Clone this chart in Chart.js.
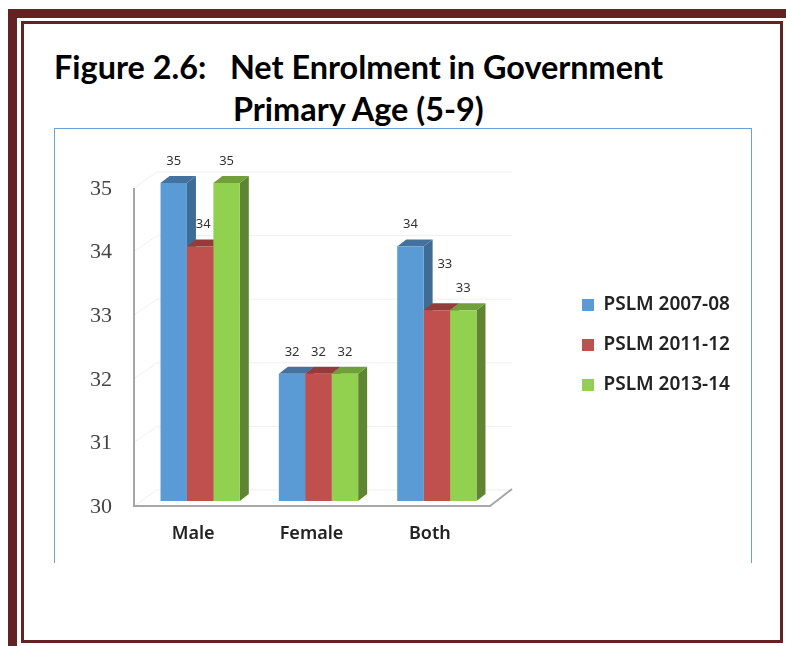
<!DOCTYPE html>
<html lang="en">
<head>
    <meta charset="UTF-8">
    <title>Figure 2.6: Net Enrolment in Government Primary Age (5-9)</title>
    <script src="https://cdn.jsdelivr.net/npm/chart.js"></script>
    <style>
        html, body { margin: 0; padding: 0; background: #fff; overflow: hidden; }
        body { width: 786px; height: 646px; position: relative; font-family: Lato, sans-serif; }
        .band { position: absolute; background: #642323; }
        .title { position: absolute; font-weight: 700; font-size: 32.4px; line-height: 42px; color: #000; white-space: pre; }
        #box { position: absolute; left: 54px; top: 128px; width: 698px; height: 435px; border: 1px solid #6f9fd8; border-bottom: 0; box-sizing: border-box; }
        #chart { position: absolute; left: 54px; top: 128px; }
    </style>
</head>
<body>
    <!-- double frame round the page -->
    <div class="band" style="left:8px;top:9px;width:778px;height:9px"></div>
    <div class="band" style="left:8px;top:9px;width:9px;height:637px"></div>
    <div class="band" style="left:21px;top:21px;width:762px;height:3px"></div>
    <div class="band" style="left:21px;top:21px;width:3px;height:622px"></div>
    <div class="band" style="left:780px;top:21px;width:3px;height:622px"></div>
    <div class="band" style="left:21px;top:640px;width:762px;height:3px"></div>

    <div class="title" style="left:54px;top:46px">Figure 2.6:   Net Enrolment in Government</div>
    <div class="title" style="left:233px;top:88px">Primary Age (5-9)</div>
    <div id="box"></div>
    <canvas id="chart" width="698" height="435"></canvas>

    <script>
        const categories = ["Male", "Female", "Both"];
        const seriesNames = ["PSLM 2007-08", "PSLM 2011-12", "PSLM 2013-14"];
        const pslm0708 = [35, 32, 34];
        const pslm1112 = [34, 32, 33];
        const pslm1314 = [35, 32, 33];
        const yTicks = [30, 31, 32, 33, 34, 35];

        const frontColors = ["#5b9bd5", "#c0504d", "#92d050"];
        const topColors = ["#44729f", "#933c3a", "#6fa03a"];
        const sideColors = ["#3f6c94", "#8a3836", "#5f8532"];

        const depthX = 9, depthY = 7;

        function poly(ctx, pts, fill) {
            ctx.fillStyle = fill;
            ctx.beginPath();
            pts.forEach((p, i) => i ? ctx.lineTo(p[0], p[1]) : ctx.moveTo(p[0], p[1]));
            ctx.closePath();
            ctx.fill();
        }

        // fake 3D: back wall, floor and the top/side faces of the bars
        const depthPlugin = {
            id: "depth",
            beforeDatasetsDraw(chart) {
                const ctx = chart.ctx, y = chart.scales.y, area = chart.chartArea;
                const left = area.left - 7, backLeft = left + 23, right = area.right + 16;
                ctx.save();
                ctx.strokeStyle = "#efefef";
                ctx.lineWidth = 1;
                yTicks.forEach(v => {
                    const py = y.getPixelForValue(v);
                    ctx.beginPath();
                    ctx.moveTo(left, py + 5);
                    ctx.lineTo(backLeft, py - 11);
                    ctx.lineTo(right, py - 11);
                    ctx.stroke();
                });
                const base = y.getPixelForValue(30);
                const floor = base + 5;
                ctx.strokeStyle = "#a6a6a6";
                ctx.lineWidth = 2;
                ctx.beginPath();
                ctx.moveTo(left, y.getPixelForValue(35) + 5);
                ctx.lineTo(left, floor);
                ctx.lineTo(area.right - 6, floor);
                ctx.lineTo(right, floor - 17);
                ctx.stroke();

                chart.data.datasets.forEach((ds, i) => {
                    chart.getDatasetMeta(i).data.forEach(bar => {
                        const l = bar.x - bar.width / 2, r = bar.x + bar.width / 2;
                        poly(ctx, [[r, bar.y], [r + depthX, bar.y - depthY], [r + depthX, base - depthY], [r, base]], sideColors[i]);
                        poly(ctx, [[l, bar.y], [l + depthX, bar.y - depthY], [r + depthX, bar.y - depthY], [r, bar.y]], topColors[i]);
                    });
                });
                ctx.restore();
            },
            afterDatasetsDraw(chart) {
                const ctx = chart.ctx;
                // labels sit where the original put them, a couple were moved off the bars
                const nudge = { "1,0": [3, 0], "1,2": [8, -24] };
                ctx.save();
                ctx.font = "13px 'Noto Sans'";
                ctx.fillStyle = "#333";
                ctx.textAlign = "center";
                ctx.textBaseline = "middle";
                chart.data.datasets.forEach((ds, i) => {
                    chart.getDatasetMeta(i).data.forEach((bar, j) => {
                        const n = nudge[i + "," + j] || [0, 0];
                        ctx.fillText(ds.data[j], bar.x + n[0], bar.y - 22 + n[1]);
                    });
                });
                ctx.restore();
            },
            // legend stays far right of the plot, so reserve the gap here
            beforeLayout(chart) {
                const legend = chart.legend;
                if (legend.wideFit) return;
                const fit = legend.fit;
                legend.fit = function () { fit.call(this); this.width = 256; };
                legend.wideFit = true;
            },
            afterLayout(chart) {
                chart.legend.left = 507;
                chart.legend.top -= 56;
            }
        };

        new Chart(document.getElementById("chart"), {
            type: "bar",
            data: {
                labels: categories,
                datasets: [pslm0708, pslm1112, pslm1314].map((values, i) => ({
                    label: seriesNames[i],
                    data: values,
                    backgroundColor: frontColors[i],
                    barPercentage: 1,
                    categoryPercentage: 0.67
                }))
            },
            options: {
                responsive: false,
                animation: false,
                layout: { padding: { top: 55 } },
                scales: {
                    x: {
                        grid: { display: false, drawTicks: false },
                        border: { display: false },
                        ticks: { padding: 22, labelOffset: -7, color: "#222", font: { family: "Noto Sans", size: 18, weight: "600" } },
                        afterFit(scale) { scale.height = 62; }
                    },
                    y: {
                        min: 30,
                        max: 35,
                        grid: { display: false, drawTicks: false },
                        border: { display: false },
                        afterBuildTicks(scale) { scale.ticks = yTicks.map(v => ({ value: v })); },
                        ticks: { padding: 29, labelOffset: 6, color: "#444", font: { family: "Liberation Serif", size: 22 } },
                        afterFit(scale) { scale.width = 87; }
                    }
                },
                plugins: {
                    tooltip: { enabled: false },
                    legend: {
                        position: "right",
                        labels: {
                            boxWidth: 12,
                            boxHeight: 12,
                            padding: 21,
                            color: "#222",
                            font: { family: "Noto Sans", size: 19, weight: "600" }
                        }
                    }
                }
            },
            plugins: [depthPlugin]
        });
    </script>
</body>
</html>
